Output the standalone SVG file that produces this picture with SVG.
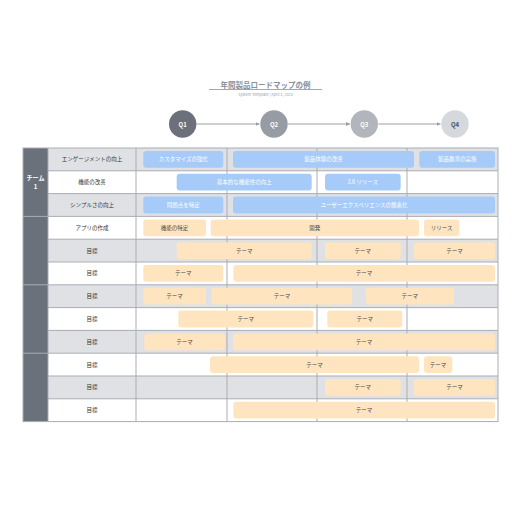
<svg xmlns="http://www.w3.org/2000/svg" width="516" height="516" viewBox="0 0 516 516">
<defs>
<style>
text{font-family:"Noto Sans CJK JP","Noto Sans",sans-serif;text-anchor:middle;dominant-baseline:central}
.title{font-size:7.5px;font-weight:bold;fill:#8a8f99}
.sub{font-size:3.8px;fill:#9a9ea6}
.q{font-size:6px;font-weight:bold;fill:#fff}
.rowg{fill:#dfe1e5}
.roww{fill:#fff}
.grid{stroke:#a9adb3;stroke-width:1;fill:none}
.team{fill:#6b717a}
.tt{font-size:6px;font-weight:bold;fill:#fff}
.lbl{font-size:5.5px;fill:#333}
.blue rect{fill:#a6cbf9}
.blue text{font-size:5.5px;fill:#fff}
.org rect{fill:#ffe5bf}
.org text{font-size:5.5px;fill:#4a4a4a}
.conn{stroke:#9a9ea5;stroke-width:1;fill:none}
</style>
<marker id="ah" viewBox="0 0 6 6" refX="6" refY="3" markerWidth="4" markerHeight="4" orient="auto">
<path d="M0,0 L6,3 L0,6 z" fill="#9a9ea5"/>
</marker>
</defs>
<rect width="516" height="516" fill="#fff"/>

<g id="title">
<text class="title" x="265.5" y="84">年間製品ロードマップの例</text>
<line x1="209" y1="89.5" x2="322" y2="89.5" stroke="#8a8f99" stroke-width="0.8"/>
<text class="sub" x="265.5" y="94.5">System Template | April 1, 2025</text>
</g>

<g id="connectors">
<line class="conn" x1="196.5" y1="124" x2="259.5" y2="124" marker-end="url(#ah)"/>
<line class="conn" x1="288" y1="124" x2="350" y2="124" marker-end="url(#ah)"/>
<line class="conn" x1="378.5" y1="124" x2="440.5" y2="124" marker-end="url(#ah)"/>
</g>

<g id="q1"><circle cx="182.7" cy="124" r="13.7" fill="#6b707a"/><text class="q" x="182.7" y="124">Q1</text></g>
<g id="q2"><circle cx="274" cy="124" r="13.7" fill="#979ba3"/><text class="q" x="274" y="124">Q2</text></g>
<g id="q3"><circle cx="364.3" cy="124" r="13.7" fill="#b2b6bc"/><text class="q" x="364.3" y="124">Q3</text></g>
<g id="q4"><circle cx="455" cy="124" r="13.7" fill="#d5d8dd"/><text class="q" x="455" y="124" style="fill:#4a4f57">Q4</text></g>

<g id="table-bg">
<rect class="rowg" x="48" y="148" width="450" height="22.8"/>
<rect class="roww" x="48" y="170.8" width="450" height="22.8"/>
<rect class="rowg" x="48" y="193.6" width="450" height="22.8"/>
<rect class="roww" x="48" y="216.4" width="450" height="22.8"/>
<rect class="rowg" x="48" y="239.2" width="450" height="22.8"/>
<rect class="roww" x="48" y="262" width="450" height="22.8"/>
<rect class="rowg" x="48" y="284.8" width="450" height="22.8"/>
<rect class="roww" x="48" y="307.6" width="450" height="22.8"/>
<rect class="rowg" x="48" y="330.4" width="450" height="22.8"/>
<rect class="roww" x="48" y="353.2" width="450" height="22.8"/>
<rect class="rowg" x="48" y="376" width="450" height="22.8"/>
<rect class="roww" x="48" y="398.8" width="450" height="22.8"/>
<rect class="team" x="23" y="148" width="25" height="273.6"/>
</g>

<g id="grid">
<path class="grid" d="M136,148V421.6 M227,148V421.6 M317,148V421.6 M407,148V421.6
M48,170.8H498 M48,193.6H498 M48,239.2H498 M48,262H498 M48,307.6H498 M48,330.4H498 M48,376H498 M48,398.8H498
M23,216.4H498 M23,284.8H498 M23,353.2H498 M48,148V421.6"/>
<rect class="grid" x="23" y="148" width="475" height="273.6"/>
</g>

<g id="team1"><text class="tt" x="35.5" y="177.5">チーム</text><text class="tt" x="35.5" y="186.5">1</text></g>

<g id="labels">
<text class="lbl" x="92" y="159.4">エンゲージメントの向上</text>
<text class="lbl" x="92" y="182.2">機能の改善</text>
<text class="lbl" x="92" y="205">シンプルさの向上</text>
<text class="lbl" x="92" y="227.8">アプリの作成</text>
<text class="lbl" x="92" y="250.6">目標</text>
<text class="lbl" x="92" y="273.4">目標</text>
<text class="lbl" x="92" y="296.2">目標</text>
<text class="lbl" x="92" y="319">目標</text>
<text class="lbl" x="92" y="341.8">目標</text>
<text class="lbl" x="92" y="364.6">目標</text>
<text class="lbl" x="92" y="387.4">目標</text>
<text class="lbl" x="92" y="410.2">目標</text>
</g>

<g id="bars-team1" class="blue">
<g id="b1"><rect x="143.3" y="151" width="80" height="16.8" rx="3"/><text x="183.3" y="159.4">カスタマイズの強化</text></g>
<g id="b2"><rect x="233" y="151" width="181" height="16.8" rx="3"/><text x="323.5" y="159.4">製品体験の改善</text></g>
<g id="b3"><rect x="419.3" y="151" width="75.7" height="16.8" rx="3"/><text x="457.2" y="159.4">製品教育の実施</text></g>
<g id="b4"><rect x="176.7" y="173.8" width="135" height="16.8" rx="3"/><text x="244.2" y="182.2">基本的な機能性の向上</text></g>
<g id="b5"><rect x="325" y="173.8" width="75.7" height="16.8" rx="3"/><text x="362.8" y="182.2">3.0 リリース</text></g>
<g id="b6"><rect x="143.3" y="196.6" width="80" height="16.8" rx="3"/><text x="183.3" y="205">問題点を特定</text></g>
<g id="b7"><rect x="233" y="196.6" width="262" height="16.8" rx="3"/><text x="364" y="205">ユーザーエクスペリエンスの簡素化</text></g>
</g>

<g id="bars-team2" class="org">
<g id="o1"><rect x="143.3" y="219.4" width="62.7" height="16.8" rx="3"/><text x="174.6" y="227.8">機能の特定</text></g>
<g id="o2"><rect x="210.7" y="219.4" width="208.3" height="16.8" rx="3"/><text x="314.8" y="227.8">開発</text></g>
<g id="o3"><rect x="424" y="219.4" width="35.3" height="16.8" rx="3"/><text x="441.6" y="227.8">リリース</text></g>
<g id="o4"><rect x="176.7" y="242.2" width="135" height="16.8" rx="3"/><text x="244.2" y="250.6">テーマ</text></g>
<g id="o5"><rect x="325" y="242.2" width="75.7" height="16.8" rx="3"/><text x="362.8" y="250.6">テーマ</text></g>
<g id="o6"><rect x="414" y="242.2" width="81" height="16.8" rx="3"/><text x="454.5" y="250.6">テーマ</text></g>
<g id="o7"><rect x="143.3" y="265" width="80" height="16.8" rx="3"/><text x="183.3" y="273.4">テーマ</text></g>
<g id="o8"><rect x="233.3" y="265" width="261.7" height="16.8" rx="3"/><text x="364" y="273.4">テーマ</text></g>
</g>

<g id="bars-team3" class="org">
<g id="o9"><rect x="143.3" y="287.8" width="62.7" height="16.8" rx="3"/><text x="174.6" y="296.2">テーマ</text></g>
<g id="o10"><rect x="211.7" y="287.8" width="140.6" height="16.8" rx="3"/><text x="282" y="296.2">テーマ</text></g>
<g id="o11"><rect x="365.7" y="287.8" width="88.3" height="16.8" rx="3"/><text x="409.8" y="296.2">テーマ</text></g>
<g id="o12"><rect x="178.3" y="310.6" width="135" height="16.8" rx="3"/><text x="245.8" y="319">テーマ</text></g>
<g id="o13"><rect x="327.3" y="310.6" width="75" height="16.8" rx="3"/><text x="364.8" y="319">テーマ</text></g>
<g id="o14"><rect x="144.3" y="333.4" width="80.7" height="16.8" rx="3"/><text x="184.6" y="341.8">テーマ</text></g>
<g id="o15"><rect x="233" y="333.4" width="262" height="16.8" rx="3"/><text x="364" y="341.8">テーマ</text></g>
</g>

<g id="bars-team4" class="org">
<g id="o16"><rect x="210" y="356.2" width="209" height="16.8" rx="3"/><text x="314.5" y="364.6">テーマ</text></g>
<g id="o17"><rect x="424" y="356.2" width="28.3" height="16.8" rx="3"/><text x="438.1" y="364.6">テーマ</text></g>
<g id="o18"><rect x="325" y="379" width="75.7" height="16.8" rx="3"/><text x="362.8" y="387.4">テーマ</text></g>
<g id="o19"><rect x="414" y="379" width="81" height="16.8" rx="3"/><text x="454.5" y="387.4">テーマ</text></g>
<g id="o20"><rect x="233.3" y="401.8" width="261.7" height="16.8" rx="3"/><text x="364" y="410.2">テーマ</text></g>
</g>
</svg>
